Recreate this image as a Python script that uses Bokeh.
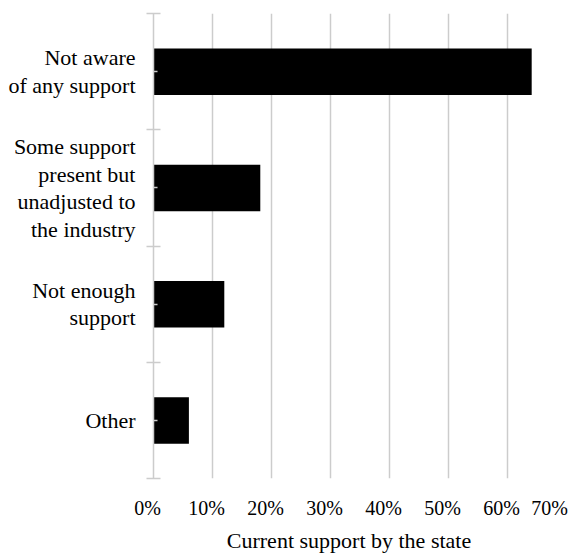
from bokeh.plotting import figure
from bokeh.models import Range1d, FixedTicker, ColumnDataSource
from bokeh.embed import file_html
from bokeh.resources import INLINE

categories = ["Not aware\nof any support",
              "Some support\npresent but\nunadjusted to\nthe industry",
              "Not enough\nsupport",
              "Other"]
values = [64.1, 18.1, 12.0, 6.0]
x_ticks = [0, 10, 20, 30, 40, 50, 60, 70]
x_tick_labels = ["0%", "10%", "20%", "30%", "40%", "50%", "60%", "70%"]
x_title = "Current support by the state"

n = len(categories)
ys = [n - i - 0.5 for i in range(n)]
bounds = list(range(n + 1))

FONT = "Liberation Serif"
GRAY = "#cccccc"
PAD = "\u2002\u200a"  # nudges centred tick labels slightly left, as in the original

p = figure(width=579, height=555, output_backend="svg", toolbar_location=None,
           x_range=Range1d(0, 70), y_range=Range1d(0, n),
           min_border_left=153, min_border_right=13, min_border_top=13,
           min_border_bottom=60)
p.outline_line_color = None
p.background_fill_color = "white"

src = ColumnDataSource(dict(y=ys, v=values))
p.hbar(y="y", left=0, right="v", height=0.4, source=src,
       fill_color="black", line_color=None)

# x axis
p.xaxis.ticker = FixedTicker(ticks=x_ticks)
p.xaxis.major_label_overrides = {t: lab + PAD for t, lab in zip(x_ticks, x_tick_labels)}
p.xaxis.axis_line_color = None
p.xaxis.major_tick_line_color = None
p.xaxis.minor_tick_line_color = None
p.xaxis.major_label_text_font = FONT
p.xaxis.major_label_text_font_size = "20px"
p.xaxis.major_label_text_color = "black"
p.xaxis.major_label_standoff = 12
p.xaxis.axis_label = x_title + "\u2003"
p.xaxis.axis_label_text_font = FONT
p.xaxis.axis_label_text_font_size = "22px"
p.xaxis.axis_label_text_font_style = "normal"
p.xaxis.axis_label_text_color = "black"
p.xaxis.axis_label_standoff = 6

# x grid
p.xgrid.ticker = FixedTicker(ticks=x_ticks)
p.xgrid.grid_line_color = GRAY
p.xgrid.grid_line_width = 1.5
p.ygrid.grid_line_color = None

# y axis
p.yaxis.ticker = FixedTicker(ticks=ys, minor_ticks=bounds)
p.yaxis.major_label_overrides = {y: c for y, c in zip(ys, categories)}
p.yaxis.axis_line_color = GRAY
p.yaxis.axis_line_width = 1.5
p.yaxis.major_tick_line_color = GRAY
p.yaxis.major_tick_line_width = 1.5
p.yaxis.major_tick_in = 4
p.yaxis.major_tick_out = 0
p.yaxis.minor_tick_line_color = GRAY
p.yaxis.minor_tick_line_width = 1.5
p.yaxis.minor_tick_in = 7
p.yaxis.minor_tick_out = 7
p.yaxis.major_label_text_font = FONT
p.yaxis.major_label_text_font_size = "22px"
p.yaxis.major_label_text_color = "black"
p.yaxis.major_label_standoff = 11
p.yaxis.major_label_text_line_height = 1.1

open("out.html", "w").write(file_html(p, INLINE))
